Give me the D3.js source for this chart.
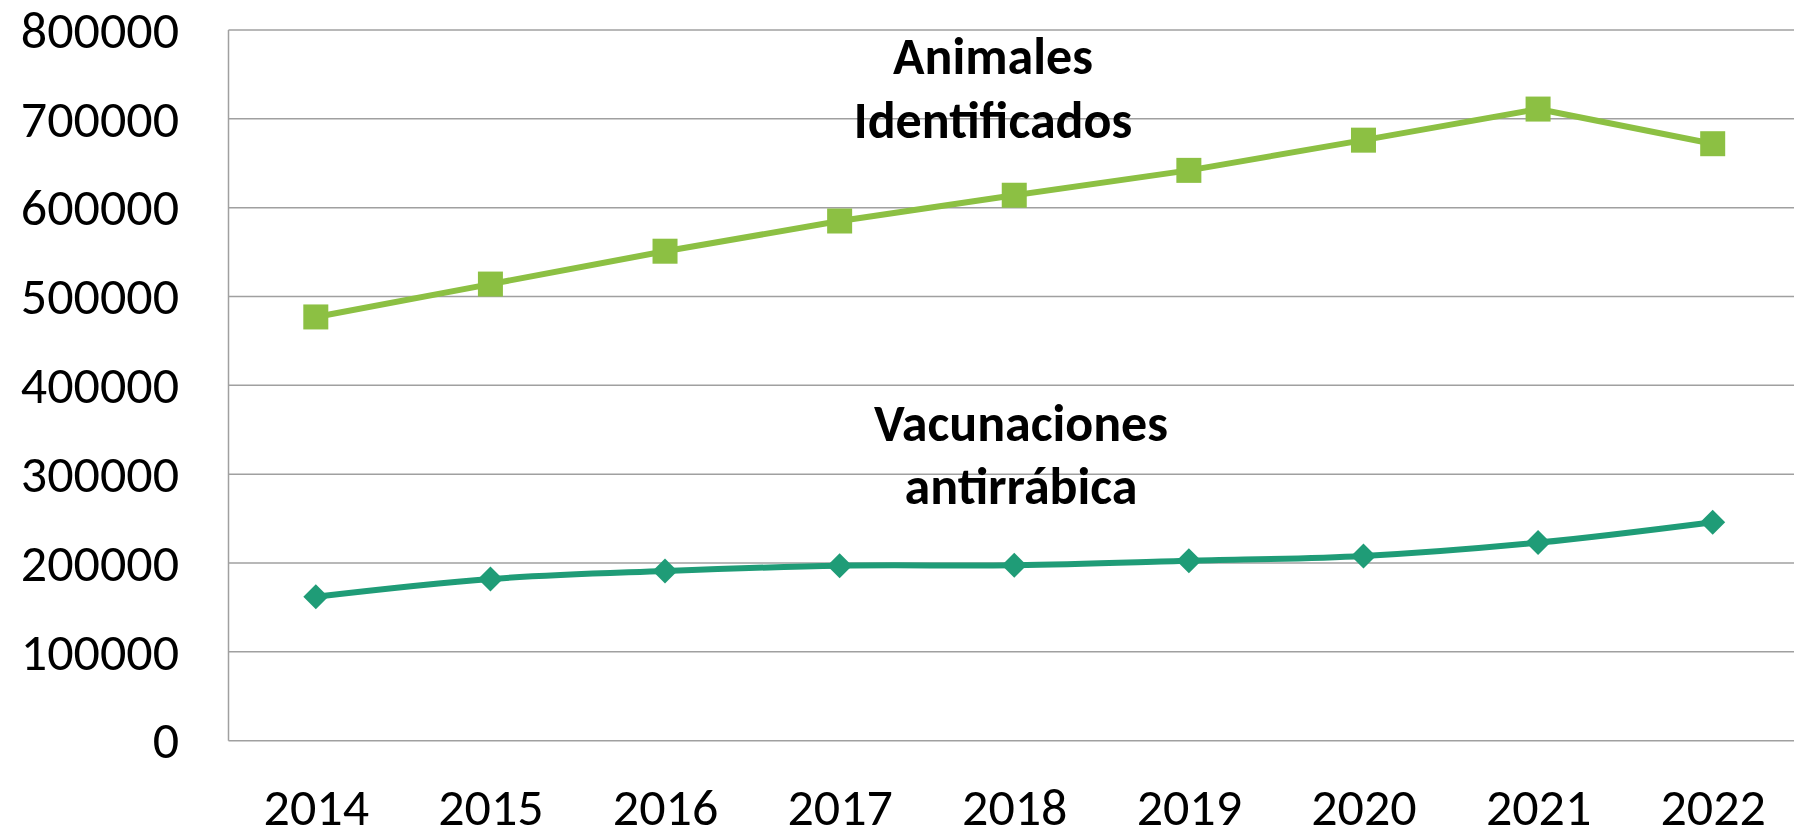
<!DOCTYPE html>
<html>
<head>
<meta charset="utf-8">
<script src="https://cdn.jsdelivr.net/npm/d3@7"></script>
<style>
  html, body { margin: 0; padding: 0; background: #ffffff; }
  svg { display: block; }
</style>
</head>
<body>
<svg id="chart" width="1794" height="829"></svg>
<script>
const years = ["2014","2015","2016","2017","2018","2019","2020","2021","2022"];
const animales = [477000, 514000, 551000, 585000, 614000, 642000, 676000, 711000, 672000];
const vacunaciones = [162000, 182000, 191000, 197000, 197500, 202500, 208000, 223000, 246000];
const yTicks = [0, 100000, 200000, 300000, 400000, 500000, 600000, 700000, 800000];
const labelAnimales = ["Animales", "Identificados"];
const labelVacunaciones = ["Vacunaciones", "antirrábica"];

(function () {
const svg = d3.select("#chart");
const font = "Carlito, Calibri, Lato, 'Open Sans', sans-serif";

const pLeft = 228.5, pRight = 1800, pTop = 30, pBottom = 740.7;

const x = d3.scalePoint().domain(years).range([pLeft, pRight]).padding(0.5);
const y = d3.scaleLinear().domain([0, 800000]).range([pBottom, pTop]);

// gridlines
svg.append("g")
  .selectAll("line")
  .data(yTicks)
  .join("line")
  .attr("x1", pLeft).attr("x2", pRight)
  .attr("y1", d => y(d)).attr("y2", d => y(d))
  .attr("stroke", "#a0a0a0").attr("stroke-width", 1.5);

// left axis line
svg.append("line")
  .attr("x1", pLeft).attr("x2", pLeft)
  .attr("y1", y(800000)).attr("y2", y(0))
  .attr("stroke", "#a0a0a0").attr("stroke-width", 1.5);

// y axis labels
const yAxis = d3.axisLeft(y).tickValues(yTicks).tickSize(0).tickPadding(0).tickFormat(d3.format("d"));
const gy = svg.append("g").attr("transform", `translate(179,0)`).call(yAxis);
gy.select(".domain").remove();
gy.selectAll("text")
  .attr("font-family", font).attr("font-size", 52).attr("fill", "#000")
  .attr("dy", "0.33em").attr("dx", 0);

// x axis labels
const xAxis = d3.axisBottom(x).tickSize(0).tickPadding(0);
const gx = svg.append("g").attr("transform", `translate(0,825)`).call(xAxis);
gx.select(".domain").remove();
gx.selectAll("text")
  .attr("font-family", font).attr("font-size", 52).attr("fill", "#000")
  .attr("dy", 0);

// Animales line
const lineStraight = d3.line().x((d, i) => x(years[i])).y(d => y(d));
svg.append("path")
  .datum(animales)
  .attr("d", lineStraight)
  .attr("fill", "none").attr("stroke", "#8cc043").attr("stroke-width", 6)
  .attr("stroke-linejoin", "round");

const sq = 25;
svg.append("g").selectAll("rect")
  .data(animales)
  .join("rect")
  .attr("x", (d, i) => x(years[i]) - sq / 2)
  .attr("y", d => y(d) - sq / 2)
  .attr("width", sq).attr("height", sq)
  .attr("fill", "#8cc043");

// Vacunaciones line (smoothed)
const lineSmooth = d3.line().x((d, i) => x(years[i])).y(d => y(d)).curve(d3.curveCatmullRom.alpha(0));
svg.append("path")
  .datum(vacunaciones)
  .attr("d", lineSmooth)
  .attr("fill", "none").attr("stroke", "#1f9c77").attr("stroke-width", 6)
  .attr("stroke-linejoin", "round");

const dm = 12.5;
svg.append("g").selectAll("path")
  .data(vacunaciones)
  .join("path")
  .attr("transform", (d, i) => `translate(${x(years[i])},${y(d)})`)
  .attr("d", `M0,${-dm}L${dm},0L0,${dm}L${-dm},0Z`)
  .attr("fill", "#1f9c77");

// annotations
function annot(lines, cx, baselines) {
  svg.append("g").selectAll("text")
    .data(lines)
    .join("text")
    .attr("x", cx).attr("y", (d, i) => baselines[i])
    .attr("text-anchor", "middle")
    .attr("font-family", font).attr("font-weight", "bold").attr("font-size", 52)
    .attr("fill", "#000")
    .text(d => d);
}
annot(labelAnimales, 993, [74, 138]);
annot(labelVacunaciones, 1021, [441, 504]);
})();
</script>
</body>
</html>
